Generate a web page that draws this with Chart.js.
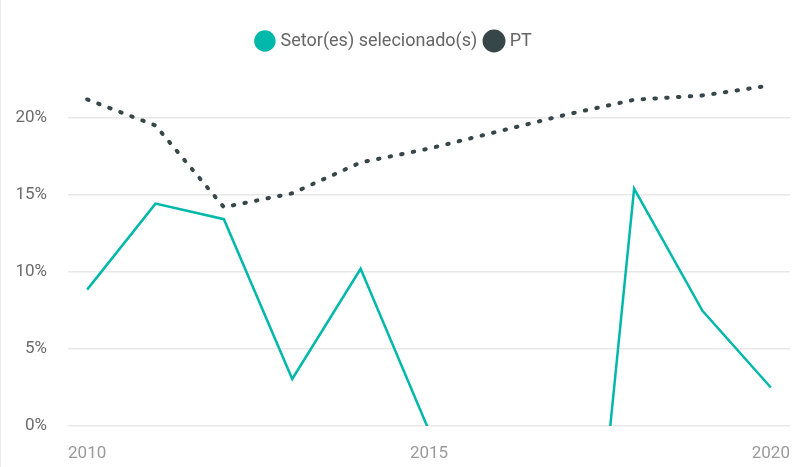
<!DOCTYPE html>
<html>
<head>
<meta charset="utf-8">
<script src="https://cdn.jsdelivr.net/npm/chart.js@4/dist/chart.umd.min.js"></script>
<style>
    body { margin: 0; background: #fff; }
    #wrap { position: relative; width: 794px; height: 467px; }
    #edge { position: absolute; left: 0; top: 0; width: 1px; height: 467px; background: #ececec; }
</style>
</head>
<body>
<div id="wrap">
    <canvas id="trend" width="794" height="467"></canvas>
    <div id="edge"></div>
</div>
<script>
// Years on the x axis
const years = [2010, 2011, 2012, 2013, 2014, 2015, 2016, 2017, 2018, 2019, 2020];
// Selected sector(s), in percent (2015-2017 fall below the 0% floor)
const setorValues = [8.85, 14.43, 13.42, 3.05, 10.2, -0.3, -15, -28.8, 15.41, 7.47, 2.5];
// Portugal (PT), in percent
const ptValues = [21.19, 19.5, 14.2, 15.1, 17.1, 18.0, 19.1, 20.2, 21.17, 21.45, 22.1];
// Tick labels
const xTicks = [2010, 2015, 2020];
const yTicks = [0, 5, 10, 15, 20];

const seriesNames = ['Setor(es) selecionado(s)', 'PT'];
const teal = '#01B8AA';
const slate = '#374649';

const tickFont = { family: 'Roboto', size: 17 };

function toPoints(values) {
    return values.map((v, i) => ({ x: years[i], y: v }));
}

let ctx = document.getElementById('trend').getContext('2d');
let chart = new Chart(ctx, {
    type: 'line',
    data: {
        datasets: [
            {
                label: seriesNames[0],
                data: toPoints(setorValues),
                borderColor: teal,
                backgroundColor: teal,
                borderWidth: 2.5,
                pointRadius: 0,
                tension: 0,
                clip: 0
            },
            {
                label: seriesNames[1],
                data: toPoints(ptValues),
                borderColor: slate,
                backgroundColor: slate,
                borderWidth: 4,
                borderDash: [1.5, 10.3],
                borderCapStyle: 'round',
                pointRadius: 0,
                tension: 0
            }
        ]
    },
    options: {
        responsive: false,
        animation: false,
        layout: { padding: { top: 22, right: 4, left: 0, bottom: 0 } },
        plugins: {
            tooltip: { enabled: false },
            legend: {
                position: 'top',
                labels: {
                    usePointStyle: true,
                    pointStyle: 'circle',
                    boxWidth: 13.4,
                    boxHeight: 13.4,
                    padding: 10,
                    color: '#666',
                    font: { family: 'Roboto', size: 18 }
                }
            }
        },
        scales: {
            x: {
                type: 'linear',
                min: years[0] - 0.28,
                max: years[years.length - 1] + 0.28,
                grid: { display: false },
                border: { display: false },
                afterBuildTicks: scale => { scale.ticks = xTicks.map(v => ({ value: v })); },
                afterFit: scale => {
                    scale.height = 41;
                    scale.paddingLeft = 0;
                    scale.paddingRight = 0;
                },
                ticks: {
                    color: '#9a9a9a',
                    font: tickFont,
                    padding: 10,
                    maxRotation: 0,
                    callback: v => String(v)
                }
            },
            y: {
                min: 0,
                max: 23.75,
                grid: { color: '#e8e8e8', lineWidth: 1.5, drawTicks: false },
                border: { display: false },
                afterBuildTicks: scale => { scale.ticks = yTicks.map(v => ({ value: v })); },
                afterFit: scale => { scale.width = 68; },
                ticks: {
                    color: '#6b6b6b',
                    font: tickFont,
                    padding: 21,
                    callback: v => v + '%'
                }
            }
        }
    }
});
</script>
</body>
</html>
